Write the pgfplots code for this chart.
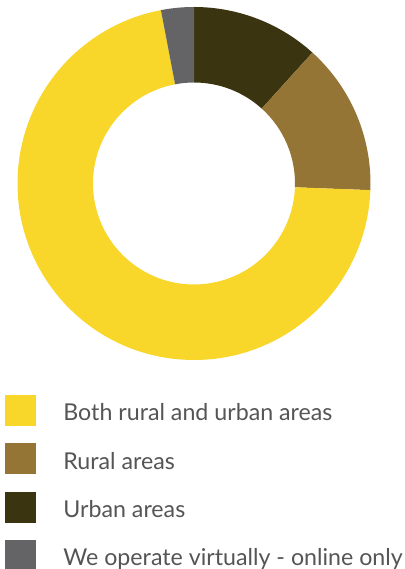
\documentclass[border=0pt]{standalone}
\usepackage{pgfplots}
\pgfplotsset{compat=1.18}
\usepackage{pgfplotstable}
\usepackage{fontspec}
\setmainfont{Lato}
\definecolor{cYellow}{HTML}{F8D62A}
\definecolor{cRural}{HTML}{957535}
\definecolor{cUrban}{HTML}{3A3410}
\definecolor{cGray}{HTML}{646466}
\definecolor{cText}{HTML}{555555}
% shares clockwise from 12 o'clock: Urban, Rural, Both, Virtual
\pgfplotstableread{
share
11.7
13.9
71.4
3.0
}\donutdata
\begin{document}
\begin{tikzpicture}
\useasboundingbox (0,0) rectangle (404pt,569pt);
\begin{axis}[
  x=1pt, y=1pt,
  xmin=0, xmax=404, ymin=0, ymax=569,
  hide axis,
  clip=false,
  legend style={at={(axis cs:5,174)}, anchor=north west, draw=none, fill=none,
    inner sep=0pt, outer sep=0pt, row sep=18pt, column sep=28pt,
    nodes={inner sep=0pt, outer sep=0pt, text=cText},
    font=\fontsize{23.2}{28}\selectfont,
    cells={anchor=base west}},
]
\pgfplotsextra{
  \xdef\cum{0}
  \foreach \i/\c in {0/cUrban,1/cRural,2/cYellow,3/cGray}{
    \pgfplotstablegetelem{\i}{share}\of\donutdata
    \pgfmathsetmacro\aone{90-3.6*\cum}
    \pgfmathsetmacro\atwo{90-3.6*(\cum+\pgfplotsretval)}
    \pgfmathsetmacro\newcum{\cum+\pgfplotsretval}
    \xdef\cum{\newcum}
    \fill[\c] (axis cs:194,385.5) ++(\aone:176.5pt)
      arc[start angle=\aone, end angle=\atwo, radius=176.5pt]
      -- ([shift={(\atwo:101pt)}]axis cs:194,385.5)
      arc[start angle=\atwo, end angle=\aone, radius=101pt] -- cycle;
  }
}
\addlegendimage{legend image code/.code={\fill[cYellow] (0pt,-4.5pt) rectangle (30pt,25.5pt);}}
\addlegendentry{Both rural and urban areas}
\addlegendimage{legend image code/.code={\fill[cRural] (0pt,-4.5pt) rectangle (30pt,25.5pt);}}
\addlegendentry{Rural areas}
\addlegendimage{legend image code/.code={\fill[cUrban] (0pt,-4.5pt) rectangle (30pt,25.5pt);}}
\addlegendentry{Urban areas}
\addlegendimage{legend image code/.code={\fill[cGray] (0pt,-4.5pt) rectangle (30pt,25.5pt);}}
\addlegendentry{We operate virtually - online only}
\end{axis}
\end{tikzpicture}
\end{document}
